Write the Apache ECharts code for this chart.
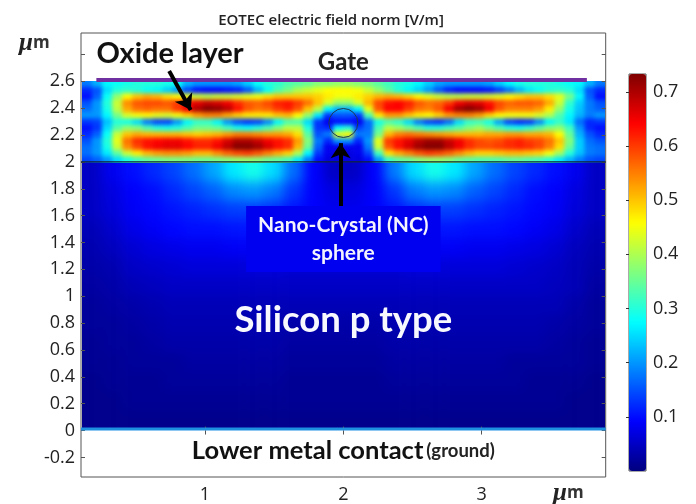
<!DOCTYPE html>
<html>
<head>
<meta charset="utf-8">
<style>
html, body { margin: 0; padding: 0; background: #fff; }
#page { position: relative; width: 696px; height: 504px; overflow: hidden; }
.clip { position: absolute; overflow: hidden; }
.clip > div { position: absolute; }
#overlay { position: absolute; left: 0; top: 0; width: 696px; height: 504px; }
</style>
</head>
<body>
<div id="page">
  <div class="clip" id="oxideClip" style="left:82px;top:81px;width:523px;height:82px"><div id="oxide"></div></div>
  <div class="clip" id="siliconClip" style="left:82px;top:163px;width:523px;height:266px"><div id="silicon"></div></div>
  <div id="overlay"></div>
</div>
<script src="https://cdn.jsdelivr.net/npm/echarts@6/dist/echarts.min.js"></script>
<script>
var titleText = 'EOTEC electric field norm [V/m]';

var xTicks = [1, 2, 3];
var yTicks = [-0.2, 0, 0.2, 0.4, 0.6, 0.8, 1, 1.2, 1.4, 1.6, 1.8, 2, 2.2, 2.4, 2.6, 2.8];
var yLabels = [-0.2, 0, 0.2, 0.4, 0.6, 0.8, 1, 1.2, 1.4, 1.6, 1.8, 2, 2.2, 2.4, 2.6];
var barTicks = [0.1, 0.2, 0.3, 0.4, 0.5, 0.6, 0.7];

var jet = ['#00007f', '#0000ff', '#007fff', '#00ffff', '#7fff7f', '#ffff00', '#ff7f00', '#ff0000', '#7f0000'];

// field, 2.6 um down to 2 um, left to right
var oxideField = [
  [.18,.22,.27,.28,.29,.3,.3,.3,.29,.28,.22,.2,.2,.2,.2,.21,.24,.28,.3,.31,.33,.34,.35,.37,.37,.38,.38,.37,.36,.34,.32,.3,.29,.27,.24,.21,.2,.2,.2,.2,.21,.24,.27,.29,.3,.3,.3,.29,.28,.27,.22,.18],
  [.12,.15,.25,.3,.31,.3,.28,.27,.24,.2,.14,.1,.09,.09,.1,.11,.15,.22,.28,.33,.36,.4,.42,.44,.46,.46,.46,.45,.42,.38,.34,.3,.27,.24,.2,.15,.11,.09,.09,.09,.1,.13,.17,.22,.26,.28,.3,.31,.3,.25,.15,.12],
  [.1,.16,.28,.38,.46,.5,.52,.51,.48,.46,.44,.42,.41,.42,.42,.43,.44,.45,.48,.5,.5,.5,.5,.49,.47,.45,.45,.47,.49,.51,.52,.51,.49,.46,.44,.42,.41,.41,.42,.42,.43,.44,.46,.48,.5,.5,.48,.44,.36,.27,.16,.1],
  [.15,.2,.3,.42,.54,.58,.59,.59,.58,.6,.63,.66,.68,.67,.65,.61,.58,.57,.59,.62,.63,.6,.56,.5,.43,.38,.38,.43,.51,.59,.63,.64,.62,.58,.56,.57,.6,.65,.67,.66,.63,.59,.57,.58,.58,.57,.52,.42,.31,.24,.18,.15],
  [.17,.2,.29,.41,.52,.56,.57,.56,.56,.6,.65,.7,.73,.72,.69,.63,.58,.56,.57,.6,.62,.58,.5,.41,.27,.22,.22,.27,.44,.58,.64,.64,.6,.56,.55,.58,.65,.71,.73,.71,.65,.58,.55,.55,.55,.53,.47,.38,.29,.23,.18,.16],
  [.2,.2,.27,.36,.43,.45,.46,.44,.43,.45,.49,.53,.55,.55,.52,.49,.47,.47,.47,.5,.51,.46,.38,.26,.13,.15,.15,.13,.33,.47,.53,.53,.5,.47,.46,.49,.53,.55,.55,.53,.49,.46,.45,.45,.45,.43,.4,.33,.27,.22,.18,.2],
  [.13,.14,.23,.3,.29,.25,.18,.14,.14,.2,.27,.31,.31,.27,.2,.15,.13,.14,.19,.27,.33,.33,.25,.13,.08,.1,.1,.08,.17,.29,.33,.31,.25,.18,.14,.13,.17,.25,.31,.32,.29,.21,.14,.12,.13,.19,.27,.31,.26,.17,.12,.13],
  [.1,.13,.25,.34,.38,.37,.33,.3,.29,.3,.33,.36,.36,.35,.32,.29,.28,.3,.33,.37,.41,.41,.3,.13,.12,.28,.3,.14,.17,.33,.41,.39,.36,.33,.3,.3,.32,.34,.37,.39,.36,.33,.3,.29,.31,.34,.37,.38,.32,.2,.12,.1],
  [.12,.16,.28,.42,.5,.52,.51,.51,.51,.51,.5,.49,.5,.51,.53,.55,.55,.54,.53,.53,.52,.48,.34,.15,.18,.44,.46,.18,.18,.36,.51,.55,.56,.55,.54,.53,.52,.51,.51,.51,.52,.52,.53,.53,.52,.52,.51,.46,.35,.22,.15,.12],
  [.15,.2,.3,.44,.56,.61,.63,.64,.65,.65,.63,.61,.61,.63,.67,.7,.7,.68,.65,.63,.61,.53,.37,.18,.12,.2,.2,.12,.2,.44,.6,.63,.66,.69,.71,.71,.68,.65,.61,.59,.58,.59,.61,.62,.6,.59,.56,.5,.37,.24,.17,.15],
  [.17,.2,.29,.42,.54,.59,.63,.65,.66,.66,.64,.62,.62,.65,.69,.73,.73,.71,.67,.63,.61,.51,.35,.16,.08,.08,.08,.08,.18,.42,.58,.63,.67,.71,.73,.73,.69,.65,.61,.59,.59,.6,.61,.62,.61,.59,.55,.48,.35,.24,.18,.17],
  [.17,.2,.26,.34,.42,.47,.51,.53,.54,.54,.53,.51,.51,.54,.57,.59,.6,.58,.55,.52,.49,.4,.27,.13,.08,.07,.07,.08,.14,.32,.48,.52,.55,.58,.6,.59,.57,.54,.51,.49,.49,.5,.51,.51,.5,.49,.45,.39,.3,.23,.18,.17],
  [.14,.16,.2,.25,.29,.32,.34,.35,.36,.36,.36,.35,.35,.36,.37,.38,.38,.37,.35,.34,.32,.26,.18,.1,.07,.07,.07,.07,.1,.2,.31,.34,.35,.37,.38,.38,.37,.35,.34,.33,.33,.33,.34,.34,.33,.32,.3,.26,.22,.18,.15,.14]
];

// field, 2 um down to 0 um
var siliconField = [
  [.05,.08,.1,.12,.14,.17,.21,.26,.29,.25,.17,.09,.05,.05,.09,.18,.25,.29,.26,.21,.17,.14,.12,.1,.08,.05],
  [.05,.07,.09,.1,.12,.14,.16,.19,.2,.18,.13,.09,.07,.07,.09,.13,.18,.2,.19,.16,.14,.12,.1,.09,.07,.05],
  [.05,.065,.085,.095,.105,.115,.125,.135,.135,.125,.105,.09,.08,.08,.09,.105,.125,.135,.135,.125,.115,.105,.095,.085,.065,.05],
  [.04,.055,.075,.085,.095,.1,.1,.105,.105,.1,.095,.085,.08,.08,.085,.095,.1,.105,.105,.1,.1,.095,.085,.075,.055,.04],
  [.035,.045,.06,.07,.075,.08,.08,.085,.085,.08,.08,.075,.07,.07,.075,.08,.08,.085,.085,.08,.08,.075,.07,.06,.045,.035],
  [.03,.035,.05,.055,.06,.065,.065,.065,.065,.065,.06,.06,.06,.06,.06,.06,.065,.065,.065,.065,.065,.06,.055,.05,.04,.03],
  [.025,.03,.04,.045,.05,.05,.05,.05,.05,.05,.05,.05,.05,.05,.05,.05,.05,.05,.05,.05,.05,.05,.05,.045,.04,.025],
  [.02,.025,.03,.035,.04,.04,.04,.04,.04,.04,.04,.04,.04,.04,.04,.04,.04,.04,.04,.04,.04,.04,.04,.04,.03,.02],
  [.02,.02,.025,.03,.035,.035,.035,.035,.035,.035,.03,.03,.03,.03,.03,.035,.035,.035,.035,.035,.035,.035,.035,.03,.025,.02],
  [.015,.02,.02,.025,.03,.03,.03,.03,.03,.03,.025,.025,.025,.025,.025,.03,.03,.03,.03,.03,.03,.03,.03,.025,.02,.015],
  [.015,.015,.02,.02,.02,.025,.025,.025,.025,.025,.02,.02,.02,.02,.02,.025,.025,.025,.025,.025,.025,.02,.02,.02,.02,.015],
  [.01,.015,.015,.015,.02,.02,.02,.02,.02,.02,.015,.015,.015,.015,.015,.02,.02,.02,.02,.02,.02,.02,.015,.015,.015,.01],
  [.01,.01,.015,.015,.015,.015,.015,.015,.015,.015,.015,.015,.015,.015,.015,.015,.015,.015,.015,.015,.015,.015,.015,.015,.01,.01],
  [.01,.01,.01,.01,.01,.01,.01,.01,.01,.01,.01,.01,.01,.01,.01,.01,.01,.01,.01,.01,.01,.01,.01,.01,.01,.01]
];

var gateLine = [[0.215, 2.61], [3.76, 2.61]];
var interfaceLine = [[0.104, 2], [3.896, 2]];
var contactLine = [[0.104, 0.012], [3.896, 0.012]];
var sphere = [[2, 2.29]];
var oxideArrow = [[0.741, 2.677], [0.897, 2.386]];
var sphereArrow = [[1.98, 1.67], [1.98, 2.14]];

function drawField(id, clipId, rows, blur) {
    var clip = document.getElementById(clipId);
    var el = document.getElementById(id);
    var pad = 3;
    var cw = clip.clientWidth / rows[0].length;
    var ch = clip.clientHeight / rows.length;
    var nx = rows[0].length + pad * 2;
    var ny = rows.length + pad * 2;
    var xCats = [], yCats = [], cells = [];
    var i, j;

    el.style.left = (-pad * cw) + 'px';
    el.style.top = (-pad * ch) + 'px';
    el.style.width = (nx * cw) + 'px';
    el.style.height = (ny * ch) + 'px';
    el.style.filter = 'blur(' + blur + 'px)';

    for (i = 0; i < nx; i++) xCats.push(i);
    for (j = 0; j < ny; j++) yCats.push(j);
    for (j = 0; j < ny; j++) {
        for (i = 0; i < nx; i++) {
            // the edge rows and columns are repeated so the blur does not fade at the clip
            var r = Math.min(rows.length - 1, Math.max(0, j - pad));
            var c = Math.min(rows[0].length - 1, Math.max(0, i - pad));
            cells.push([i, ny - 1 - j, rows[r][c]]);
        }
    }

    var chart = echarts.init(el, null, { renderer: 'canvas' });
    chart.setOption({
        animation: false,
        grid: { left: 0, right: 0, top: 0, bottom: 0 },
        xAxis: { type: 'category', data: xCats, show: false },
        yAxis: { type: 'category', data: yCats, show: false },
        visualMap: { show: false, min: 0, max: 0.733, inRange: { color: jet } },
        series: [{ type: 'heatmap', data: cells, progressive: 0, silent: true }]
    });
}

drawField('oxide', 'oxideClip', oxideField, 2);
drawField('silicon', 'siliconClip', siliconField, 6);

var chart = echarts.init(document.getElementById('overlay'));
var axisColor = '#555';
var labelFont = { color: '#222', fontFamily: '"Open Sans"', fontSize: 18 };
var unitRich = {
    a: { fontFamily: '"Liberation Serif"', fontStyle: 'italic', fontSize: 25, color: '#222' },
    b: { fontFamily: '"Open Sans"', fontSize: 17, color: '#333' }
};

function plainLine(points, color, width) {
    return {
        type: 'line', data: points, symbol: 'none', silent: true,
        lineStyle: { color: color, width: width }, z: 5
    };
}

function arrow(points) {
    return {
        type: 'lines', coordinateSystem: 'cartesian2d', polyline: false, silent: true,
        symbol: ['none', 'arrow'], symbolSize: 15,
        lineStyle: { color: '#000', width: 4, opacity: 1, curveness: 0 },
        data: [{ coords: points }], z: 7
    };
}

function note(point, text, style) {
    return {
        type: 'scatter', data: [point], symbolSize: 0, silent: true, z: 8,
        itemStyle: { opacity: 1 },
        label: Object.assign({
            show: true, position: 'inside', formatter: text,
            fontFamily: 'Lato', fontWeight: 'bold', color: '#111'
        }, style)
    };
}

var CHoption = {
    animation: false,
    title: [
        { text: titleText, left: 326, top: 8, textAlign: 'center', textStyle: { fontFamily: '"Open Sans"', fontWeight: 600, fontSize: 15, color: '#222' } },
        { text: '{a|μ}{b|m}', left: 14, top: 26, textStyle: { rich: unitRich } },
        { text: '{a|μ}{b|m}', left: 548, top: 476, textStyle: { rich: unitRich } }
    ],
    visualMap: {
        type: 'continuous', seriesIndex: [], min: 0, max: 0.733, calculable: false, showLabel: false,
        text: null, left: 629, top: 74, itemWidth: 17, itemHeight: 397, padding: 0,
        inRange: { color: jet }
    },
    grid: [
        { left: 81, top: 33, width: 524.7, height: 444, show: true, borderColor: axisColor, borderWidth: 1, backgroundColor: 'transparent' },
        { left: 629, top: 74, width: 17, height: 397, show: true, borderColor: '#555', borderWidth: 1, backgroundColor: 'transparent' }
    ],
    xAxis: [
        {
            gridIndex: 0, type: 'value', min: 0.104, max: 3.896, position: 'bottom',
            axisLine: { show: false }, splitLine: { show: false },
            axisTick: { show: true, inside: true, length: 4, customValues: xTicks, lineStyle: { color: axisColor } },
            axisLabel: Object.assign({ margin: 9, customValues: xTicks }, labelFont)
        },
        {
            gridIndex: 0, type: 'value', min: 0.104, max: 3.896, position: 'top',
            axisLine: { show: false }, splitLine: { show: false }, axisLabel: { show: false },
            axisTick: { show: true, inside: true, length: 4, customValues: xTicks, lineStyle: { color: axisColor } }
        },
        { gridIndex: 1, type: 'value', min: 0, max: 1, show: false }
    ],
    yAxis: [
        {
            gridIndex: 0, type: 'value', min: -0.346, max: 2.96, position: 'left',
            axisLine: { show: false }, splitLine: { show: false },
            axisTick: { show: true, inside: true, length: 4, customValues: yTicks, lineStyle: { color: axisColor } },
            axisLabel: Object.assign({ margin: 6, customValues: yLabels }, labelFont)
        },
        {
            gridIndex: 0, type: 'value', min: -0.346, max: 2.96, position: 'right',
            axisLine: { show: false }, splitLine: { show: false }, axisLabel: { show: false },
            axisTick: { show: true, inside: true, length: 4, customValues: yTicks, lineStyle: { color: axisColor } }
        },
        {
            gridIndex: 1, type: 'value', min: 0, max: 0.733, position: 'right',
            axisLine: { show: false }, splitLine: { show: false },
            axisTick: { show: true, inside: true, length: 3, customValues: barTicks, lineStyle: { color: '#333' } },
            axisLabel: Object.assign({ margin: 7, customValues: barTicks }, labelFont)
        },
        {
            gridIndex: 1, type: 'value', min: 0, max: 0.733, position: 'left',
            axisLine: { show: false }, splitLine: { show: false }, axisLabel: { show: false },
            axisTick: { show: true, inside: true, length: 3, customValues: barTicks, lineStyle: { color: '#333' } }
        }
    ],
    series: [
        plainLine(gateLine, '#7030a0', 4),
        plainLine(interfaceLine, '#10242c', 1.2),
        plainLine(contactLine, '#1e90e0', 3),
        {
            type: 'scatter', data: sphere, symbolSize: 29, silent: true, z: 6,
            itemStyle: { color: 'rgba(0,0,0,0)', borderColor: '#1c3a50', borderWidth: 1, opacity: 1 }
        },
        arrow(oxideArrow),
        arrow(sphereArrow),
        note([0.748, 2.81], 'Oxide layer', { fontSize: 29, color: '#111' }),
        note([2, 2.744], 'Gate', { fontSize: 24, color: '#222' }),
        note([2, 1.426], 'Nano-Crystal (NC)\nsphere', {
            fontSize: 21, color: '#f4f4ff', lineHeight: 28, align: 'center',
            backgroundColor: '#0000f0', padding: [5, 12, 5, 12]
        }),
        note([2, 0.823], 'Silicon p type', { fontSize: 36.5, color: '#f8f8ff' }),
        note([2, -0.153], '{a|Lower metal contact} {b|(ground)}', {
            rich: {
                a: { fontFamily: 'Lato', fontWeight: 'bold', fontSize: 25.5, color: '#111' },
                b: { fontFamily: 'Lato', fontWeight: 'bold', fontSize: 18.5, color: '#222' }
            }
        })
    ]
};

chart.setOption(CHoption);
</script>
</body>
</html>
